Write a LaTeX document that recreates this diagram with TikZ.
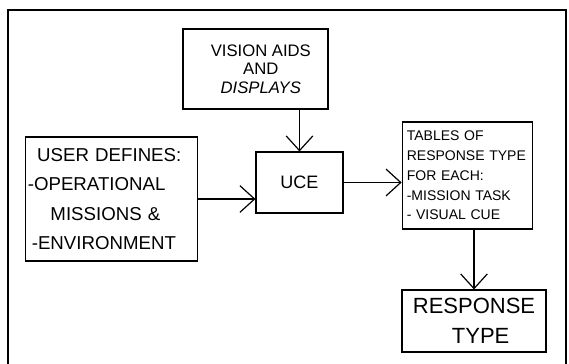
\documentclass[tikz,border=0pt]{standalone}
\usepackage{fontspec}
\setmainfont{Liberation Sans}
\usetikzlibrary{arrows.meta}

\begin{document}
\begin{tikzpicture}[x=0.75pt, y=-0.75pt,
    % Define the style for the boxes and the arrows
    box/.style={draw, line width=0.8pt, inner sep=2pt},
    flow/.style={line width=0.9pt,
        -{Straight Barb[length=11pt, width=20pt, line width=0.9pt]}}
]
\useasboundingbox (0,0) rectangle (569,364);

% Define the centres of the boxes
\coordinate (V) at (255.5,69);
\coordinate (U) at (111.5,199);
\coordinate (C) at (299.5,182.5);
\coordinate (T) at (467.5,175.5);
\coordinate (R) at (474,321);

% Draw the outer frame
\draw[line width=0.8pt] (8,366) -- (8,10) -- (566,10) -- (566,366);

% Draw the boxes
\node[box, minimum width=108.75pt, minimum height=60pt, align=center,
    font=\fontsize{12.5}{14}\selectfont] (vision) at (V)
    {\hspace*{8pt}VISION AIDS\\\hspace*{8pt}AND\\\hspace*{8pt}\textit{DISPLAYS}};
\node[box, text width=125.5pt, minimum height=93pt, align=left,
    font=\fontsize{14}{22}\selectfont] (user) at (U)
    {\hspace*{7pt}USER DEFINES:\\-OPERATIONAL\\\hspace*{17pt}MISSIONS \&\\\hspace*{3pt}-ENVIRONMENT};
\node[box, minimum width=65.25pt, minimum height=45.75pt,
    font=\fontsize{13.5}{16}\selectfont] (uce) at (C) {UCE};
\node[box, inner xsep=3.5pt, text width=91pt, minimum height=80.25pt, align=left,
    font=\fontsize{10.5}{14.8}\selectfont] (tables) at (T)
    {TABLES OF\\RESPONSE TYPE\\FOR EACH:\\-MISSION TASK\\- VISUAL CUE};
\node[box, minimum width=108pt, minimum height=46.5pt, align=center,
    font=\fontsize{16.5}{22.5}\selectfont] (response) at (R)
    {RESPONSE\\\hspace*{10pt}TYPE};

% Draw the arrows
\draw[flow] (uce.north |- vision.south) -- (uce.north);
\draw[flow] (user.east) -- (user.east -| uce.west);
\draw[flow] (uce.east) -- (uce.east -| tables.west);
\draw[flow] (response.north |- tables.south) -- (response.north);

\end{tikzpicture}
\end{document}
